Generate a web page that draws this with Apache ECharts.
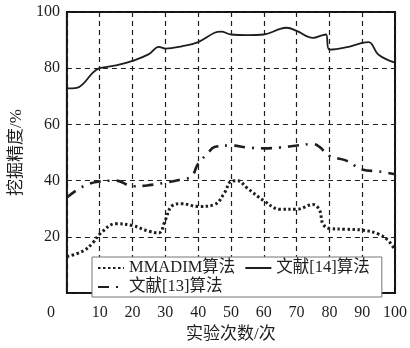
<!DOCTYPE html>
<html>
<head>
<meta charset="utf-8">
<script src="https://cdn.jsdelivr.net/npm/echarts@6/dist/echarts.min.js"></script>
<style>
html, body { margin: 0; padding: 0; background: #fff; }
#chart { width: 410px; height: 348px; }
</style>
</head>
<body>
<div id="chart"></div>
<script>
// 实验次数 / 挖掘精度 readings
var names = ['MMADIM算法', '文献[14]算法', '文献[13]算法'];

var xMmadim = [0, 5, 8, 10, 15, 20, 25, 28, 30, 32, 35, 40, 45, 48, 50, 52, 55, 60, 65, 70, 75, 77, 78, 80, 85, 90, 95, 98, 100];
var yMmadim = [13, 15, 18, 21, 24.7, 24, 22, 21.4, 26, 31, 31.8, 30.8, 31.5, 35.6, 39.7, 40, 37.3, 32.9, 29.8, 29.8, 31.5, 29.5, 24.7, 23, 22.7, 22.4, 21, 18.6, 15.3];

var xRef14 = [0, 3, 5, 8, 10, 15, 20, 25, 28, 30, 35, 40, 45, 47, 50, 55, 60, 65, 67, 70, 75, 78, 79, 80, 85, 90, 92, 95, 100];
var yRef14 = [72.8, 73, 74.5, 78.5, 80, 81, 82.6, 85, 87.6, 87, 87.8, 89.3, 92.6, 93, 92, 91.8, 92, 94, 94.4, 93.3, 90.8, 91.8, 92, 86.6, 87.4, 89, 89.3, 84.8, 82];

var xRef13 = [0, 5, 10, 15, 20, 25, 30, 35, 38, 40, 43, 45, 50, 55, 60, 65, 70, 75, 77, 80, 85, 90, 95, 100];
var yRef13 = [34, 38, 39.7, 40, 38, 38.4, 39.3, 40.5, 41.5, 46, 49.8, 52, 52.5, 51.8, 51.5, 51.8, 52.5, 53, 52, 48.8, 47.2, 44, 43.3, 42.3];

var xTicks = [0, 10, 20, 30, 40, 50, 60, 70, 80, 90, 100];
var yTicks = [0, 20, 40, 60, 80, 100];

function pairs(xs, ys) {
    var out = [];
    for (var i = 0; i < xs.length; i++) out.push([xs[i], ys[i]]);
    return out;
}

var font = '"Liberation Serif", "Noto Sans CJK SC", serif';
var ink = '#1e1e1e';

var myChart = echarts.init(document.getElementById('chart'), null, { renderer: 'canvas' });
var option = {
    backgroundColor: '#fff',
    animation: false,
    grid: {
        left: 57, right: 11, top: 12, bottom: 48,
        show: true,
        borderColor: '#111',
        borderWidth: 2,
        backgroundColor: 'transparent'
    },
    legend: {
        data: names,
        left: 92,
        top: 257,
        width: 282,
        padding: [2, 4, 1, 5],
        itemGap: 1,
        itemWidth: 26,
        itemHeight: 12,
        itemStyle: { opacity: 0 },
        backgroundColor: '#fff',
        borderColor: '#777',
        borderWidth: 1,
        textStyle: { fontFamily: font, fontSize: 16.5, color: ink, lineHeight: 18, padding: [0, 8, 0, 0] }
    },
    xAxis: {
        type: 'value',
        min: 0, max: 100, interval: 10,
        name: '实验次数/次',
        nameLocation: 'middle',
        nameGap: 32,
        nameTextStyle: { fontFamily: font, fontSize: 17, color: ink },
        axisLine: { show: false },
        axisTick: { show: false },
        axisLabel: {
            margin: 12,
            fontFamily: font, fontSize: 16, color: ink,
            formatter: function (v) { return v === 0 ? '' : v; }
        },
        splitLine: { show: true, lineStyle: { color: ink, width: 1.2, type: [5, 4] } }
    },
    yAxis: {
        type: 'value',
        min: 0, max: 100, interval: 20,
        name: '挖掘精度/%',
        nameLocation: 'middle',
        nameGap: 34,
        nameTextStyle: { fontFamily: font, fontSize: 17, color: ink },
        axisLine: { show: false },
        axisTick: { show: false },
        axisLabel: {
            margin: 7,
            fontFamily: font, fontSize: 16, color: ink,
            formatter: function (v) { return v === 0 ? '{z|0}' : v; },
            rich: { z: { fontFamily: font, fontSize: 16, color: ink, lineHeight: 16, padding: [40, 5, 0, 0] } }
        },
        splitLine: { show: true, lineStyle: { color: ink, width: 1.2, type: [5, 4] } }
    },
    series: [
        {
            name: names[0], type: 'line', smooth: 0.4, symbol: 'none',
            data: pairs(xMmadim, yMmadim),
            itemStyle: { color: ink },
            lineStyle: { color: ink, width: 3, type: [2.5, 2.5] },
            z: 3
        },
        {
            name: names[1], type: 'line', smooth: 0.4, symbol: 'none',
            data: pairs(xRef14, yRef14),
            itemStyle: { color: ink },
            lineStyle: { color: ink, width: 1.8, type: 'solid' },
            z: 3
        },
        {
            name: names[2], type: 'line', smooth: 0.4, symbol: 'none',
            data: pairs(xRef13, yRef13),
            itemStyle: { color: ink },
            lineStyle: { color: ink, width: 2.6, type: [11, 7, 2, 7] },
            z: 3
        }
    ]
};

myChart.setOption(option);
</script>
</body>
</html>
